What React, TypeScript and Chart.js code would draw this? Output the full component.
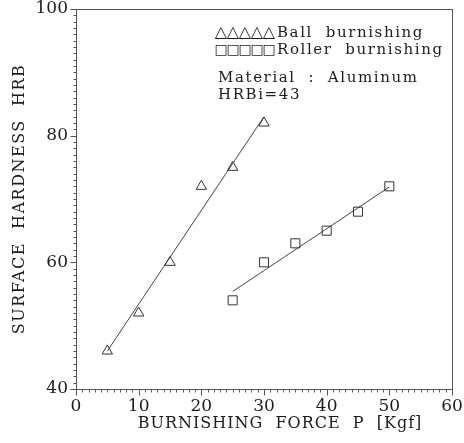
import React, { useEffect, useRef } from 'react';
import { Chart, registerables } from 'chart.js';

Chart.register(...registerables);

// ---- data ----
const ballForce = [5, 10, 15, 20, 25, 30];
const ballHardness = [46, 52, 60, 72, 75, 82];
const rollerForce = [25, 30, 35, 40, 45, 50];
const rollerHardness = [54, 60, 63, 65, 68, 72];
const ballFitForce = [5, 30];
const ballFitHardness = [46, 83];
const rollerFitForce = [25, 50];
const rollerFitHardness = [55.4, 71.9];

const xTickValues = [0, 10, 20, 30, 40, 50, 60];
const yTickValues = [40, 60, 80, 100];

const xTitle = 'BURNISHING  FORCE  P  [Kgf]';
const yTitle = 'SURFACE  HARDNESS  HRB';
const legendMarkers = ['\u25B3', '\u25A1'];
const legendLabels = ['Ball  burnishing', 'Roller  burnishing'];
const noteLines = ['Material  :  Aluminum', 'HRBi=43'];

const SERIF = "'DejaVu Serif', 'Liberation Serif', serif";
const INK = '#1c1c1c';
const markerFontSizes = [16, 14];

const toPts = (xs: number[], ys: number[]) => xs.map((v, i) => ({ x: v, y: ys[i] }));

const decorPlugin = {
  id: 'decor',
  afterDraw(chart: any) {
    const { ctx, chartArea, scales } = chart;
    const { left, right, top, bottom } = chartArea;
    const x = scales.x;
    const y = scales.y;
    ctx.save();
    ctx.strokeStyle = '#555';
    ctx.lineWidth = 1;
    // frame
    ctx.strokeRect(Math.round(left) + 0.5, Math.round(top) + 0.5, Math.round(right - left), Math.round(bottom - top));
    // ticks
    ctx.beginPath();
    for (let v = x.min; v <= x.max; v += 1) {
      const px = Math.round(x.getPixelForValue(v)) + 0.5;
      const len = v % 10 === 0 ? 6 : 3;
      ctx.moveTo(px, Math.round(bottom) + 0.5);
      ctx.lineTo(px, Math.round(bottom) + 0.5 + len);
    }
    for (let v = y.min; v <= y.max; v += 1) {
      const py = Math.round(y.getPixelForValue(v)) + 0.5;
      const len = v % 20 === 0 ? 6 : 3;
      ctx.moveTo(Math.round(left) + 0.5, py);
      ctx.lineTo(Math.round(left) + 0.5 - len, py);
    }
    ctx.stroke();

    ctx.fillStyle = INK;
    ctx.textBaseline = 'middle';
    // x title
    ctx.font = `16px ${SERIF}`;
    (ctx as any).letterSpacing = '1px';
    ctx.textAlign = 'center';
    ctx.fillText(xTitle, (left + right) / 2 + 16, bottom + 35);
    // y title
    (ctx as any).letterSpacing = '1.5px';
    ctx.save();
    ctx.translate(20, (top + bottom) / 2);
    ctx.rotate(-Math.PI / 2);
    ctx.fillText(yTitle, 0, 0);
    ctx.restore();
    // legend + note
    ctx.font = `15px ${SERIF}`;
    (ctx as any).letterSpacing = '1.6px';
    ctx.textAlign = 'left';
    legendLabels.forEach((t, i) => {
      const ly = top + 24 + i * 17;
      ctx.save();
      ctx.textAlign = 'center';
      (ctx as any).letterSpacing = '0px';
      ctx.font = `${markerFontSizes[i]}px 'DejaVu Sans', sans-serif`;
      for (let k = 0; k < 5; k++) ctx.fillText(legendMarkers[i], left + 145 + k * 12, ly);
      ctx.restore();
      ctx.fillText(t, left + 201, ly);
    });
    noteLines.forEach((t, i) => ctx.fillText(t, left + 142, top + 69 + i * 17));
    ctx.restore();
  },
};

export default function App() {
  const ref = useRef<HTMLCanvasElement>(null);
  useEffect(() => {
    if (!ref.current) return;
    const chart = new Chart(ref.current, {
      type: 'scatter',
      data: {
        datasets: [
          {
            label: 'Ball burnishing',
            data: toPts(ballForce, ballHardness),
            pointStyle: 'triangle',
            pointRadius: 6,
            pointBorderWidth: 1,
            pointBorderColor: '#333',
            pointBackgroundColor: 'rgba(0,0,0,0)',
            showLine: false,
          },
          {
            label: 'Roller burnishing',
            data: toPts(rollerForce, rollerHardness),
            pointStyle: 'rect',
            pointRadius: 6.4,
            pointBorderWidth: 1,
            pointBorderColor: '#333',
            pointBackgroundColor: 'rgba(0,0,0,0)',
            showLine: false,
          },
          {
            label: 'Ball fit',
            data: toPts(ballFitForce, ballFitHardness),
            showLine: true,
            pointRadius: 0,
            borderColor: '#444',
            borderWidth: 1,
          },
          {
            label: 'Roller fit',
            data: toPts(rollerFitForce, rollerFitHardness),
            showLine: true,
            pointRadius: 0,
            borderColor: '#444',
            borderWidth: 1,
          },
        ],
      },
      options: {
        animation: false,
        responsive: true,
        maintainAspectRatio: false,
        layout: { padding: { left: 0, right: 12, top: 9, bottom: 0 } },
        plugins: { legend: { display: false }, tooltip: { enabled: false } },
        scales: {
          x: {
            type: 'linear',
            min: 0,
            max: 60,
            afterBuildTicks: (s: any) => { s.ticks = xTickValues.map((v) => ({ value: v })); },
            afterFit: (s: any) => { s.height = 54; s.paddingLeft = 0; s.paddingRight = 0; },
            grid: { display: false, drawTicks: false },
            border: { display: false },
            ticks: { padding: 7, color: INK, font: { family: SERIF, size: 17 } },
          },
          y: {
            type: 'linear',
            min: 40,
            max: 100,
            afterBuildTicks: (s: any) => { s.ticks = yTickValues.map((v) => ({ value: v })); },
            afterFit: (s: any) => { s.width = 76; s.paddingTop = 0; s.paddingBottom = 0; },
            grid: { display: false, drawTicks: false },
            border: { display: false },
            ticks: { padding: 8, color: INK, font: { family: SERIF, size: 17 } },
          },
        },
      },
      plugins: [decorPlugin],
    });
    return () => chart.destroy();
  }, []);
  return (
    <div style={{ position: 'absolute', left: 0, top: 0, width: 464, height: 443, background: '#fff' }}>
      <canvas ref={ref} />
    </div>
  );
}
